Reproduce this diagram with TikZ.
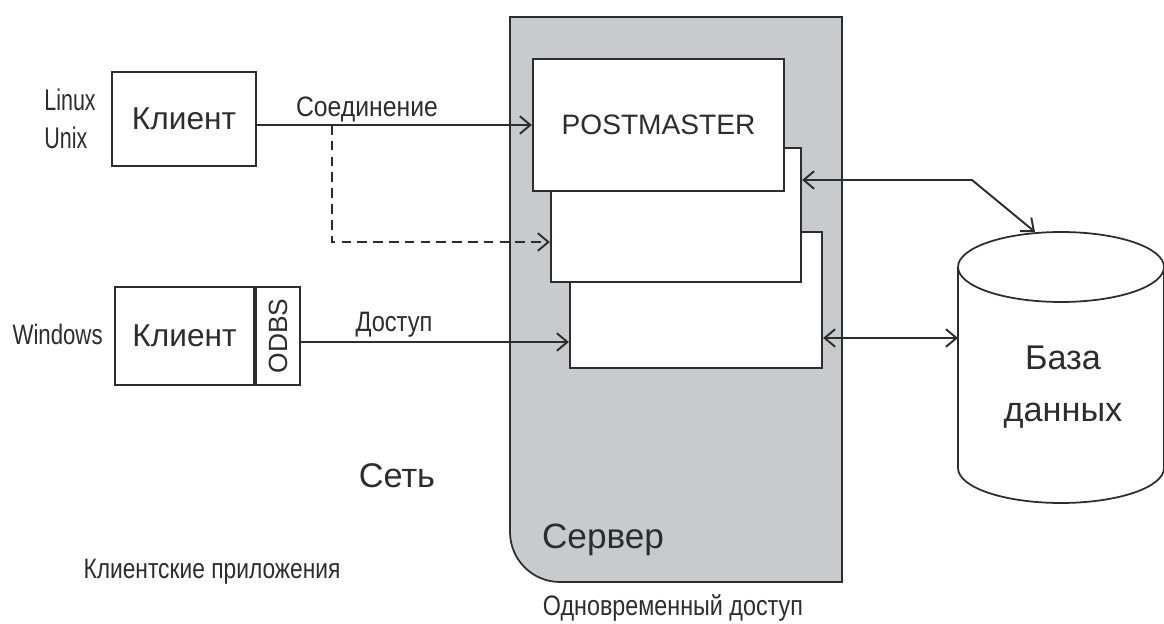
\documentclass[tikz,border=0pt]{standalone}
\usepackage{graphicx}
\usepackage{fontspec}
\setmainfont{Liberation Sans}
\usetikzlibrary{arrows.meta}
\definecolor{srvgray}{RGB}{200,202,205}
\definecolor{ink}{RGB}{45,45,45}
\newcommand{\narrow}[2]{\scalebox{#1}[1]{#2}}

\begin{document}
\begin{tikzpicture}[x=0.02cm, y=0.02cm,
    box/.style={draw=ink, line width=1.3pt, fill=white, inner sep=0pt, text=ink},
    conn/.style={draw=ink, line width=1.1pt, -{Straight Barb[length=6pt,width=10pt]}},
    both/.style={conn, {Straight Barb[length=6pt,width=10pt]}-{Straight Barb[length=6pt,width=10pt]}},
    lbl/.style={text=ink, inner sep=0pt},
    dbline/.style={draw=ink, line width=1pt}]
  \useasboundingbox (0,0) rectangle (1164,623);

  % server area
  \draw[draw=ink, line width=1pt, fill=srvgray] (510,606) -- (842,606) -- (842,41) -- (560,41)
    arc[start angle=270, end angle=180, radius=1cm] -- cycle;

  % server processes
  \node[box, minimum width=5.04cm, minimum height=2.72cm] (proc3) at (696,323) {};
  \node[box, minimum width=5cm, minimum height=2.68cm] (proc2) at (676,408) {};
  \node[box, minimum width=5.02cm, minimum height=2.64cm, font=\fontsize{16}{19}\selectfont] (pm) at (658.5,498) {POSTMASTER};

  % clients
  \node[box, minimum width=2.88cm, minimum height=1.88cm, font=\fontsize{18}{21}\selectfont] (cl1) at (184,504) {Клиент};
  \node[box, minimum width=2.78cm, minimum height=1.96cm, font=\fontsize{18}{21}\selectfont] (cl2) at (184.5,287) {Клиент};
  \node[box, minimum width=0.88cm, minimum height=1.96cm, anchor=west, font=\fontsize{15}{18}\selectfont] (odbs) at (cl2.east) {\rotatebox{90}{ODBS}};

  \node[lbl, align=left, anchor=west, font=\fontsize{17}{21.6}\selectfont] (os1) at (44,504) {\narrow{0.72}{Linux}\\\narrow{0.72}{Unix}};
  \node[lbl, anchor=base east, font=\fontsize{16}{19}\selectfont] (os2) at (103,278) {\narrow{0.79}{Windows}};
  \node[lbl, anchor=base, font=\fontsize{16}{19}\selectfont] (conlbl) at (367,506) {\narrow{0.88}{Соединение}};
  \node[lbl, anchor=base, font=\fontsize{16}{19}\selectfont] (acclbl) at (394,292) {\narrow{0.84}{Доступ}};

  % database
  \draw[dbline, fill=white] (958,356) -- (958,155) arc[start angle=180, end angle=360, x radius=2.06cm, y radius=0.7cm] -- (1164,356);
  \draw[dbline] (1061,356) ellipse[x radius=2.06cm, y radius=0.7cm];
  \node[lbl, align=center, font=\fontsize{19.5}{29.6}\selectfont] (db) at (1063,235.5) {База\\данных};

  % connections
  \coordinate (split) at (332,498);
  \coordinate (dbbend) at (972,443);
  \coordinate (dbtop) at (1035,391);
  \coordinate (dbleft) at (958,285);
  \draw[conn] (cl1.east |- pm.west) -- (pm.west);
  \draw[conn, dash pattern=on 5.5pt off 3.5pt] (split) |- ([yshift=-0.54cm]proc2.west);
  \draw[conn] ([yshift=-0.12cm]odbs.east) -- ([yshift=-0.12cm]odbs.east -| proc3.west);
  \draw[both] (proc2.east |- dbbend) -- (dbbend) -- (dbtop);
  \draw[both] (proc3.east |- dbleft) -- (dbleft);

  % captions
  \node[lbl, anchor=base, font=\fontsize{19.5}{23}\selectfont] (net) at (397,136) {Сеть};
  \node[lbl, anchor=base, font=\fontsize{20}{24}\selectfont] (srv) at (603,75) {Сервер};
  \node[lbl, anchor=base, font=\fontsize{16}{19}\selectfont] (apps) at (212,45) {\narrow{0.81}{Клиентские приложения}};
  \node[lbl, anchor=base, font=\fontsize{16}{19}\selectfont] (conc) at (673,8) {\narrow{0.83}{Одновременный доступ}};
\end{tikzpicture}
\end{document}
